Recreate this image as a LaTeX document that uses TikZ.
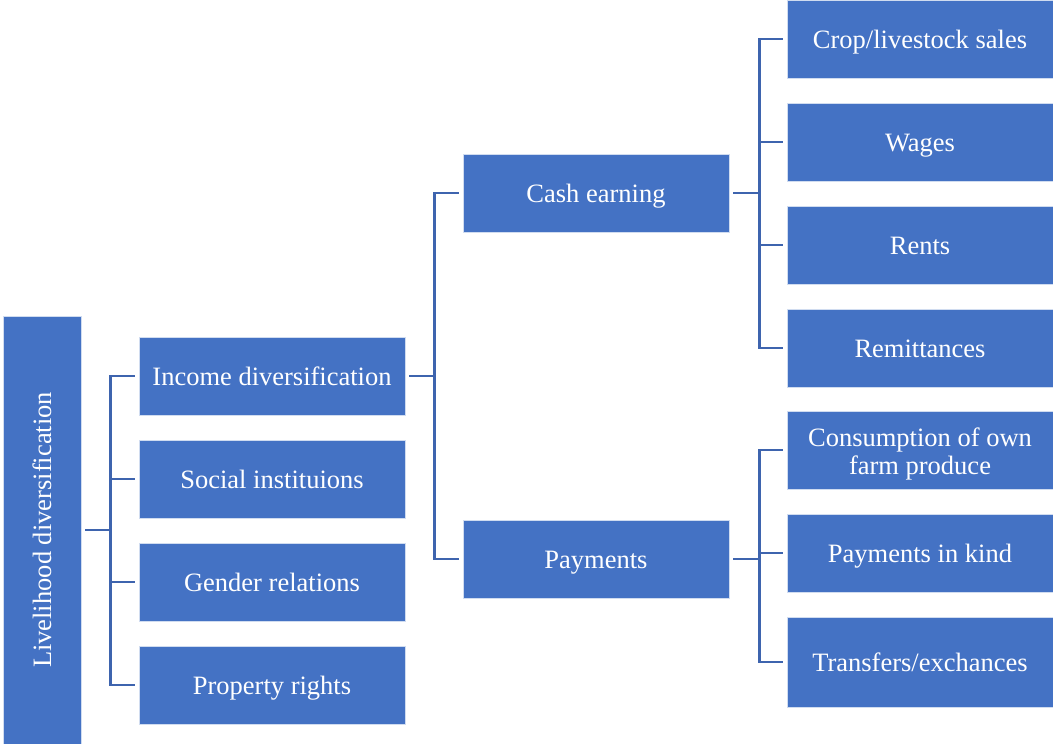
\documentclass[tikz,border=0pt]{standalone}
\usepackage{fontspec}
\setmainfont{Liberation Serif}
\definecolor{boxblue}{HTML}{4472C4}
\definecolor{lineblue}{HTML}{3E64AE}
\begin{document}
\begin{tikzpicture}[x=1pt,y=-1pt,
    box/.style={fill=boxblue, draw=white!75!boxblue, line width=0.8pt,
      text=white, inner sep=0pt, minimum width=266pt, minimum height=78pt,
      text height=20pt, text depth=2pt, font=\fontsize{26.5}{28}\selectfont},
    boxtext/.style={text=white, inner sep=0pt, align=center,
      font=\fontsize{26.5}{28}\selectfont},
    conn/.style={draw=lineblue, line width=2.6pt, shorten <=4pt, shorten >=4pt}]
  \useasboundingbox (0,0) rectangle (1053,744);

  % Root
  \node[box, minimum width=78pt, minimum height=428pt] (root) at (42,530) {};
  \node[boxtext, rotate=90] (rootlbl) at (root.center) {Livelihood diversification};

  % First level
  \node[box] (inc)  at (272,376) {Income diversification};
  \node[box] (soc)  at (272,479) {Social instituions};
  \node[box] (gen)  at (272,582) {Gender relations};
  \node[box] (prop) at (272,685) {Property rights};

  % Second level
  \node[box] (cash) at (596,193) {Cash earning};
  \node[box] (pay)  at (596,559) {Payments};

  % Third level
  \node[box] (crop)  at (920,39)  {Crop/livestock sales};
  \node[box] (wag)   at (920,142) {Wages};
  \node[box] (rent)  at (920,245) {Rents};
  \node[box] (remit) at (920,348) {Remittances};
  \node[box] (cons)  at (920,450) {};
  \node[boxtext] (conslbl) at ([yshift=-4pt]cons.center) {Consumption of own\\farm produce};
  \node[box] (kind)  at (920,553) {Payments in kind};
  \node[box, minimum height=90pt] (trans) at (920,662) {Transfers/exchances};

  % Connectors
  \foreach \c in {inc,soc,gen,prop}
    \draw[conn] (root.east) -- ++(29,0) |- (\c.west);
  \foreach \c in {cash,pay}
    \draw[conn] (inc.east) -- ++(29,0) |- (\c.west);
  \foreach \c in {crop,wag,rent,remit}
    \draw[conn] (cash.east) -- ++(30,0) |- (\c.west);
  \foreach \c in {cons,kind,trans}
    \draw[conn] (pay.east) -- ++(30,0) |- (\c.west);
\end{tikzpicture}
\end{document}
